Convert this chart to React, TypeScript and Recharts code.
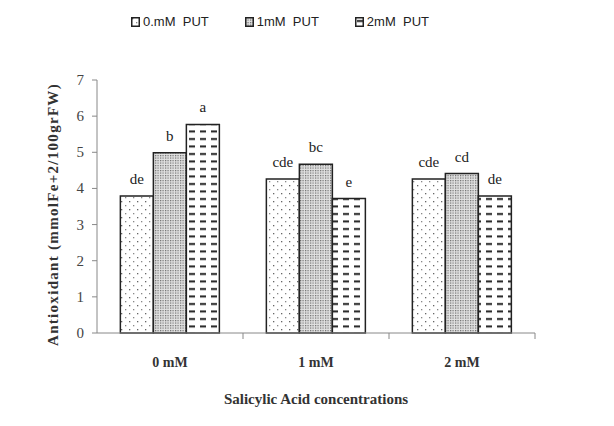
import { BarChart, Bar, XAxis, YAxis, Legend, LabelList } from 'recharts';

const categories = ['0 mM', '1 mM', '2 mM'];
const put0 = [3.79, 4.26, 4.26];
const put1 = [4.99, 4.67, 4.41];
const put2 = [5.77, 3.72, 3.79];
const letters0 = ['de', 'cde', 'cde'];
const letters1 = ['b', 'bc', 'cd'];
const letters2 = ['a', 'e', 'de'];
const yTicks = [0, 1, 2, 3, 4, 5, 6, 7];

const data = categories.map((c, i) => ({
    name: c,
    put0: put0[i],
    put1: put1[i],
    put2: put2[i],
    l0: letters0[i],
    l1: letters1[i],
    l2: letters2[i],
}));

const SERIF = '"Liberation Serif", "Times New Roman", serif';

function Patterns() {
    return (
        <defs>
            <pattern id="pDots" width="8" height="8" patternUnits="userSpaceOnUse">
                <rect width="8" height="8" fill="#fff" />
                <rect x="1" y="1" width="1.3" height="1.3" fill="#666" />
                <rect x="5" y="5" width="1.3" height="1.3" fill="#888" />
            </pattern>
            <pattern id="pStipple" width="2.5" height="2.5" patternUnits="userSpaceOnUse">
                <rect width="2.5" height="2.5" fill="#e2e2e2" />
                <rect x="0" y="0" width="1.2" height="1.2" fill="#6a6a6a" />
            </pattern>
            <pattern id="pDash" width="11" height="7.5" patternUnits="userSpaceOnUse">
                <rect width="11" height="7.5" fill="#fff" />
                <rect x="2" y="3" width="6" height="2" fill="#222" />
            </pattern>
        </defs>
    );
}

const legendItems = [
    { label: '0.mM  PUT', fill: 'url(#pDots)' },
    { label: '1mM  PUT', fill: 'url(#pStipple)' },
    { label: '2mM  PUT', fill: 'url(#pDash)' },
];

function LegendContent() {
    return (
        <div style={{ display: 'flex', gap: 36, fontFamily: '"Liberation Sans", Arial, sans-serif', fontSize: 13, color: '#222' }}>
            {legendItems.map((it) => (
                <div key={it.label} style={{ display: 'flex', alignItems: 'center', gap: 3, whiteSpace: 'pre' }}>
                    <svg width="9" height="10">
                        <rect x="0.75" y="0.75" width="7.5" height="8.5" fill={it.fill} stroke="#222" strokeWidth="1.5" />
                    </svg>
                    <span>{it.label}</span>
                </div>
            ))}
        </div>
    );
}

function CatTick(props: any) {
    const { x, y, payload } = props;
    return (
        <g>
            <line x1={x + 73} x2={x + 73} y1={y} y2={y + 6} stroke="#888" strokeWidth={1} />
            <text x={x} y={y + 34} textAnchor="middle" fontFamily={SERIF} fontSize={14} fontWeight="bold" fill="#333">
                {payload.value}
            </text>
        </g>
    );
}

function ValTick(props: any) {
    const { x, y, payload } = props;
    return (
        <text x={x - 6} y={y + 5} textAnchor="end" fontFamily={SERIF} fontSize={15} fill="#444">
            {payload.value}
        </text>
    );
}

function YLabel(props: any) {
    const { viewBox } = props;
    const cy = viewBox.y + viewBox.height / 2 + 8;
    return (
        <text
            x={53}
            y={cy}
            transform={`rotate(-90, 53, ${cy})`}
            textAnchor="middle"
            dominantBaseline="central"
            fontFamily={SERIF}
            fontSize={15}
            fontWeight="bold"
            letterSpacing={1.3}
            fill="#333"
        >
            Antioxidant (mmolFe+2/100grFW)
        </text>
    );
}

export default function App() {
    return (
        <div style={{ position: 'absolute', left: 0, top: 0, width: 614, height: 426, background: '#fff' }}>
            <BarChart
                width={614}
                height={426}
                data={data}
                margin={{ top: 65, right: 79, bottom: 0, left: 0 }}
                barCategoryGap="16%"
                barGap={0}
            >
                <Patterns />
                <Legend
                    verticalAlign="top"
                    content={<LegendContent />}
                    wrapperStyle={{ position: 'absolute', top: 14, left: 131, width: 420 }}
                />
                <XAxis
                    dataKey="name"
                    stroke="#888"
                    tickLine={false}
                    tickSize={0}
                    tickMargin={0}
                    height={93}
                    tick={<CatTick />}
                    label={{ value: 'Salicylic Acid concentrations', position: 'insideBottom', offset: 22, style: { fontFamily: SERIF, fontSize: 15, fontWeight: 'bold', fill: '#333' } }}
                />
                <YAxis
                    domain={[0, 7]}
                    ticks={yTicks}
                    width={97}
                    stroke="#888"
                    tickSize={5}
                    tick={<ValTick />}
                    label={<YLabel />}
                />
                <Bar dataKey="put0" fill="url(#pDots)" stroke="#222" strokeWidth={1.5} isAnimationActive={false}>
                    <LabelList dataKey="l0" position="top" offset={12} fill="#222" fontFamily={SERIF} fontSize={15} />
                </Bar>
                <Bar dataKey="put1" fill="url(#pStipple)" stroke="#222" strokeWidth={1.5} isAnimationActive={false}>
                    <LabelList dataKey="l1" position="top" offset={12} fill="#222" fontFamily={SERIF} fontSize={15} />
                </Bar>
                <Bar dataKey="put2" fill="url(#pDash)" stroke="#222" strokeWidth={1.5} isAnimationActive={false}>
                    <LabelList dataKey="l2" position="top" offset={12} fill="#222" fontFamily={SERIF} fontSize={15} />
                </Bar>
            </BarChart>
        </div>
    );
}
